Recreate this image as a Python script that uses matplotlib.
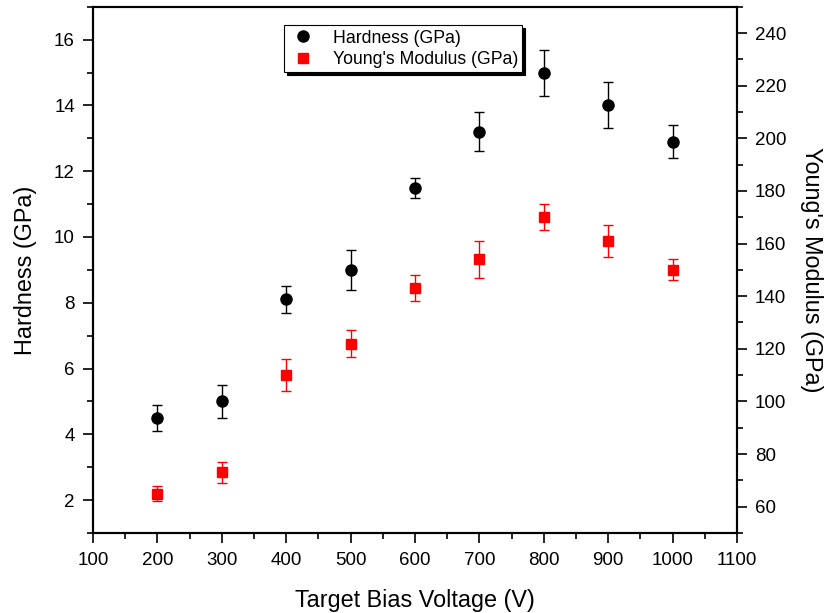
import matplotlib.pyplot as plt
from matplotlib.ticker import MultipleLocator

plt.rcParams['font.family'] = ['Liberation Sans', 'DejaVu Sans']

voltage = [200, 300, 400, 500, 600, 700, 800, 900, 1000]
hardness = [4.5, 5.0, 8.1, 9.0, 11.5, 13.2, 15.0, 14.0, 12.9]
hardness_err = [0.4, 0.5, 0.4, 0.6, 0.3, 0.6, 0.7, 0.7, 0.5]
modulus = [65, 73, 110, 122, 143, 154, 170, 161, 150]
modulus_err = [3, 4, 6, 5, 5, 7, 5, 6, 4]

fig = plt.figure(figsize=(8.26, 6.13), dpi=100)
ax = fig.add_axes([0.1126, 0.1305, 0.7797, 0.8585])
ax2 = ax.twinx()

h = ax.errorbar(voltage, hardness, yerr=hardness_err, fmt='o', color='black',
                ms=8, ecolor='black', elinewidth=1, capsize=3.7, capthick=1,
                label='Hardness (GPa)')
m = ax2.errorbar(voltage, modulus, yerr=modulus_err, fmt='s', color='red',
                 ms=6.5, ecolor='red', elinewidth=1, capsize=3.7, capthick=1,
                 label="Young's Modulus (GPa)")

ax.set_xlim(100, 1100)
ax.set_ylim(1, 17)
ax2.set_ylim(50, 250)

ax.xaxis.set_major_locator(MultipleLocator(100))
ax.xaxis.set_minor_locator(MultipleLocator(50))
ax.yaxis.set_minor_locator(MultipleLocator(1))
ax2.yaxis.set_minor_locator(MultipleLocator(10))
ax.set_yticks(range(2, 17, 2))
ax2.set_yticks(range(60, 241, 20))

for a in (ax, ax2):
    a.tick_params(which='major', direction='out', length=7, width=1.2,
                  labelsize=13.5, pad=6)
    a.tick_params(which='minor', direction='out', length=4, width=1.2)
    for s in a.spines.values():
        s.set_linewidth(1.5)
ax.tick_params(axis='x', pad=7)

ax.set_xlabel('Target Bias Voltage (V)', fontsize=16.8, labelpad=14)
ax.set_ylabel('Hardness (GPa)', fontsize=16.8, labelpad=12)
ax2.set_ylabel("Young's Modulus (GPa)", fontsize=16.8, rotation=270, labelpad=26)

leg = ax.legend(handles=[h[0], m[0]], labels=['Hardness (GPa)', "Young's Modulus (GPa)"],
                loc='upper left', bbox_to_anchor=(0.2966, 0.965), fontsize=12.7,
                frameon=True, fancybox=False, shadow={'color': 'black', 'alpha': 1},
                edgecolor='black', borderpad=0.25, handletextpad=0.9,
                labelspacing=0.25, handlelength=1.6, borderaxespad=0)
leg.get_frame().set_linewidth(0.8)

fig.savefig('out.png', dpi=100)
